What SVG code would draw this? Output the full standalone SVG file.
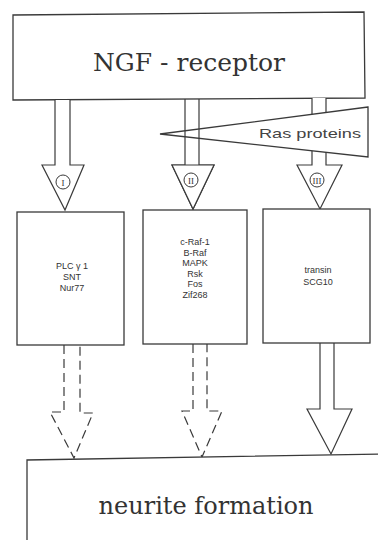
<svg xmlns="http://www.w3.org/2000/svg" width="378" height="540" viewBox="0 0 378 540">
<style>
.box{fill:#fff;stroke:#3a3a3a;stroke-width:1.3}
.arr{fill:#fff;stroke:#3a3a3a;stroke-width:1.2;stroke-linejoin:miter}
.dash{fill:none;stroke:#3a3a3a;stroke-width:1.2;stroke-dasharray:9,5}
.big{font-family:"DejaVu Serif","Liberation Serif",serif;font-size:24px;fill:#333;text-anchor:middle}
.sm{font-family:"Liberation Sans",Arial,sans-serif;font-size:9px;fill:#333;text-anchor:middle}
.num{font-family:"Liberation Serif",serif;font-size:9px;fill:#333;text-anchor:middle}
.circ{fill:#fff;stroke:#3a3a3a;stroke-width:1}
</style>
<rect width="378" height="540" fill="#fff"/>
<g id="ngf-receptor">
<path class="box" d="M13,15 L364,12 L365,98 L13,100 Z"/>
<text class="big" x="189" y="71" textLength="192" lengthAdjust="spacingAndGlyphs">NGF - receptor</text>
</g>
<g id="connectors">
<path class="arr" d="M55,100 V165 H42 L65,210 L84,165 H70 V100"/>
<circle class="circ" cx="63" cy="182" r="7"/>
<text class="num" x="63" y="185.5">I</text>
<path class="arr" d="M312,98 V165 H297 L320,209 L342,165 H326 V98"/>
<circle class="circ" cx="317" cy="180" r="7"/>
<text class="num" x="317" y="183.5">III</text>
</g>
<g id="ras-proteins">
<path class="box" d="M368,107 L160,134 L368,157 Z"/>
<text x="310" y="138" font-family="Liberation Sans,Arial,sans-serif" font-size="13.5" fill="#444" text-anchor="middle" textLength="102" lengthAdjust="spacingAndGlyphs">Ras proteins</text>
</g>
<g id="connectors-2">
<path class="arr" style="fill:none" d="M185,99 V165 H172 L193,209 L214,165 H199 V99"/>
<path d="M172,165 L193,209 L214,165 Z" fill="#fff" stroke="#3a3a3a" stroke-width="1.2"/>
<circle class="circ" cx="191" cy="180" r="7"/>
<text class="num" x="191" y="183.5">II</text>
<path class="dash" d="M64,345 V412 H50 L74,458 L93,413 H80 V345"/>
<path class="dash" d="M193,344 V411 H182 L202,457 L222,411 H207 V344"/>
<path class="arr" d="M320,343 V409 H307 L331,454 L352,409 H334 V343"/>
</g>
<g id="box-1">
<rect class="box" x="17" y="212" width="107" height="133"/>
<text class="sm" x="72" y="269">PLC γ 1</text>
<text class="sm" x="72" y="280">SNT</text>
<text class="sm" x="72" y="291">Nur77</text>
</g>
<g id="box-2">
<rect class="box" x="143" y="210" width="104" height="134"/>
<text class="sm" x="195" y="245">c-Raf-1</text>
<text class="sm" x="195" y="255.5">B-Raf</text>
<text class="sm" x="195" y="266">MAPK</text>
<text class="sm" x="195" y="276.5">Rsk</text>
<text class="sm" x="195" y="287">Fos</text>
<text class="sm" x="195" y="297.5">Zif268</text>
</g>
<g id="box-3">
<rect class="box" x="263" y="209" width="107" height="134"/>
<text class="sm" x="318" y="273">transin</text>
<text class="sm" x="318" y="285">SCG10</text>
</g>
<g id="neurite-formation">
<path class="box" d="M27,545 V460 L382,454 V545 Z"/>
<text class="big" x="206" y="514" textLength="215" lengthAdjust="spacingAndGlyphs">neurite formation</text>
</g>
</svg>
